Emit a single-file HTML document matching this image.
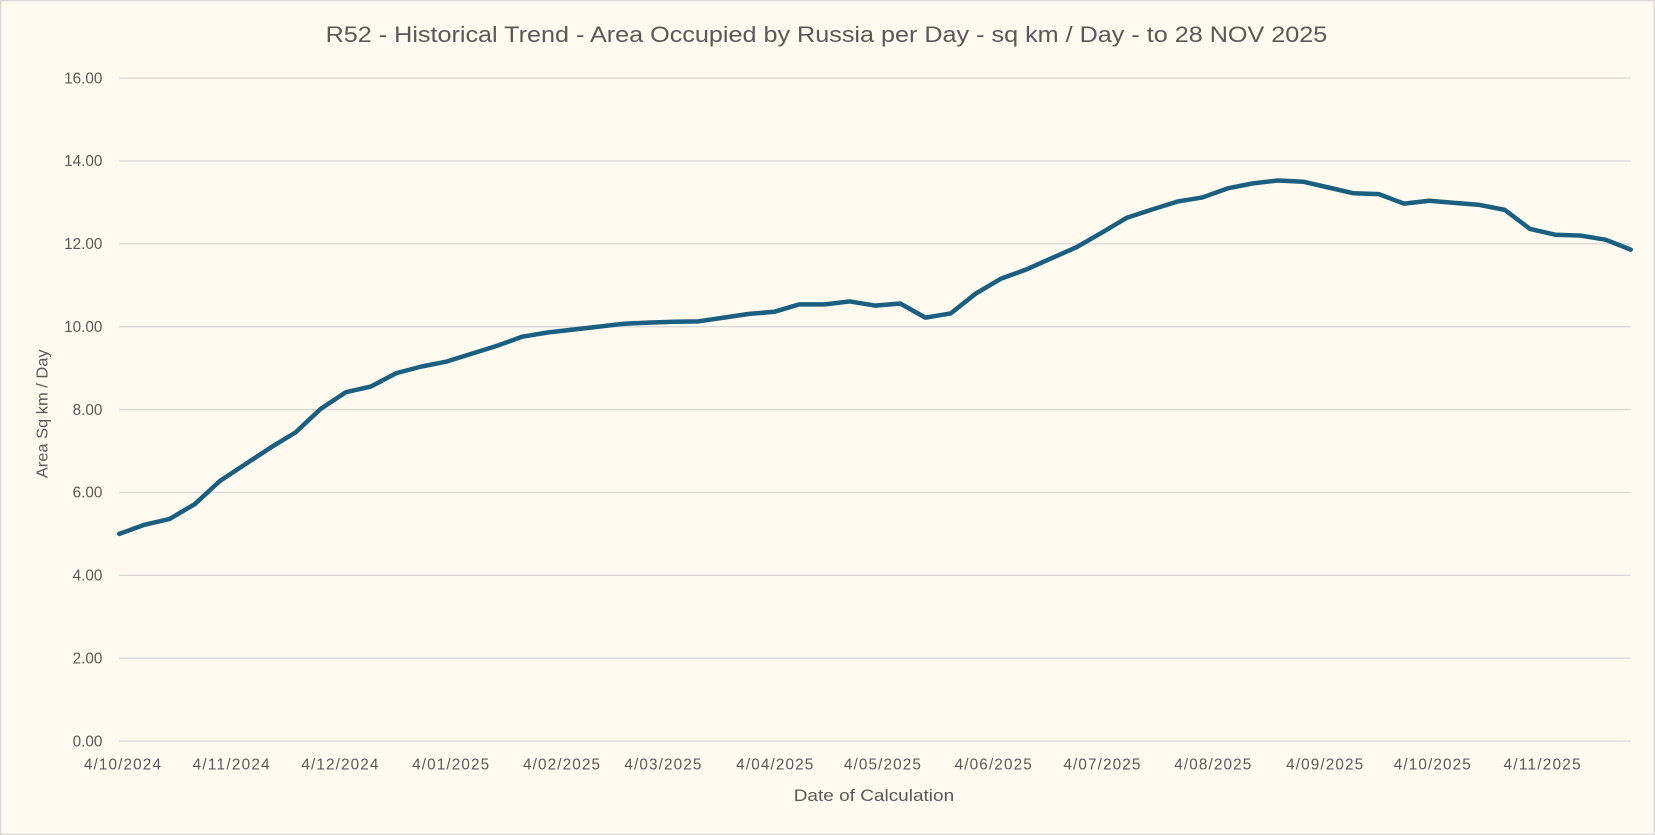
<!DOCTYPE html>
<html><head><meta charset="utf-8"><style>
html,body{margin:0;padding:0;background:#fefaef;}
svg{display:block;}
text{font-family:"Liberation Sans",sans-serif;fill:#595959;}
</style></head><body>
<svg width="1655" height="835" viewBox="0 0 1568 791" preserveAspectRatio="none" xmlns="http://www.w3.org/2000/svg">
<rect x="0.5" y="0.5" width="1567" height="790" fill="#fefaef" stroke="#d9d9d9" stroke-width="1.5"/>
<text x="783" y="40" font-size="21" text-anchor="middle" textLength="949" lengthAdjust="spacingAndGlyphs">R52 - Historical Trend - Area Occupied by Russia per Day - sq km / Day - to 28 NOV 2025</text>
<g stroke="#d9d9d9" stroke-width="1.3">
<line x1="113" x2="1545" y1="74" y2="74"/><line x1="113" x2="1545" y1="152.5" y2="152.5"/>
<line x1="113" x2="1545" y1="231" y2="231"/><line x1="113" x2="1545" y1="309.5" y2="309.5"/>
<line x1="113" x2="1545" y1="388" y2="388"/><line x1="113" x2="1545" y1="466.5" y2="466.5"/>
<line x1="113" x2="1545" y1="545" y2="545"/><line x1="113" x2="1545" y1="623.5" y2="623.5"/>
<line x1="113" x2="1545" y1="702" y2="702"/>
</g>
<g font-size="14.5" text-anchor="end">
<text x="97" y="79">16.00</text><text x="97" y="157.5">14.00</text><text x="97" y="236">12.00</text>
<text x="97" y="314.5">10.00</text><text x="97" y="393">8.00</text><text x="97" y="471.5">6.00</text>
<text x="97" y="550">4.00</text><text x="97" y="628.5">2.00</text><text x="97" y="707">0.00</text>
</g>
<g font-size="14.5" text-anchor="middle" lengthAdjust="spacingAndGlyphs">
<text x="116" y="729" textLength="73">4/10/2024</text><text x="219" y="729" textLength="73">4/11/2024</text><text x="322" y="729" textLength="73">4/12/2024</text>
<text x="427" y="729" textLength="73">4/01/2025</text><text x="532" y="729" textLength="73">4/02/2025</text><text x="628" y="729" textLength="73">4/03/2025</text>
<text x="734" y="729" textLength="73">4/04/2025</text><text x="836" y="729" textLength="73">4/05/2025</text><text x="941" y="729" textLength="73">4/06/2025</text>
<text x="1044" y="729" textLength="73">4/07/2025</text><text x="1149" y="729" textLength="73">4/08/2025</text><text x="1255" y="729" textLength="73">4/09/2025</text>
<text x="1357" y="729" textLength="73">4/10/2025</text><text x="1461" y="729" textLength="73">4/11/2025</text>
</g>
<text x="828" y="759" font-size="16" text-anchor="middle" textLength="152" lengthAdjust="spacingAndGlyphs">Date of Calculation</text>
<text transform="translate(45,392) rotate(-90)" font-size="15" text-anchor="middle" textLength="122" lengthAdjust="spacingAndGlyphs">Area Sq km / Day</text>
<g transform="translate(113,702) scale(23.867,-39.25)">
<polyline fill="none" stroke="#1a5e80" stroke-width="4.5" stroke-linejoin="round" stroke-linecap="round" vector-effect="non-scaling-stroke"
points="0,5.0 1,5.22 2,5.36 3,5.72 4,6.28 5,6.68 6,7.08 7,7.45 8,8.02 9,8.42 10,8.56 11,8.88 12,9.04 13,9.16 14,9.35 15,9.54 16,9.76 17,9.86 18,9.93 19,10.0 20,10.07 21,10.1 22,10.12 23,10.13 24,10.22 25,10.31 26,10.36 27,10.54 28,10.54 29,10.61 30,10.51 31,10.56 32,10.22 33,10.32 34,10.8 35,11.16 36,11.38 37,11.65 38,11.92 39,12.27 40,12.63 41,12.83 42,13.02 43,13.12 44,13.34 45,13.46 46,13.53 47,13.5 48,13.36 49,13.22 50,13.2 51,12.97 52,13.04 53,12.99 54,12.94 55,12.82 56,12.36 57,12.22 58,12.2 59,12.1 60,11.86"/>
</g>
</svg>
</body></html>
